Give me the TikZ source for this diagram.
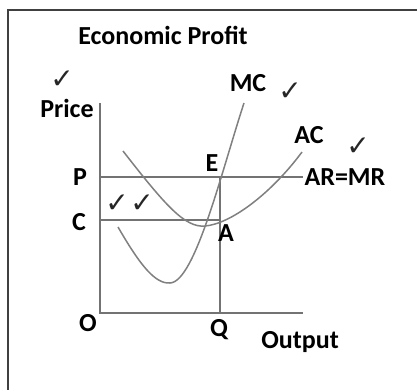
\documentclass[tikz,border=0pt]{standalone}
\usepackage{fontspec}
\setmainfont{Carlito}
\newfontfamily\symfont{DejaVu Sans}
\begin{document}
\begin{tikzpicture}[x=1pt,y=-1pt,
  lbl/.style={font=\bfseries\fontsize{26}{30}\selectfont, text=black, inner sep=0pt},
  tick/.style={font=\symfont\fontsize{28}{30}\selectfont, text=black!85, inner sep=0pt},
  curve/.style={draw=black!50, line width=1.5pt},
  axis/.style={draw=black!55, line width=1.6pt}]
\useasboundingbox (0,0) rectangle (417,389);
\fill[white] (0,0) rectangle (417,389);
\draw[black!75, line width=1.3pt] (8,420) -- (8,10) -- (430,10);
% coordinates
\coordinate (O) at (100,313);
\coordinate (Ytop) at (100,103);
\coordinate (Xend) at (303,313);
\coordinate (Pstart) at (100,177);
\coordinate (Pend) at (303,177);
\coordinate (Cstart) at (100,220);
\coordinate (Aend) at (220,220);
\coordinate (E) at (220,177);
\coordinate (Qf) at (220,313);
% axes and lines
\draw[axis] (Ytop) -- (O) -- (Xend);
\draw[axis] (Pstart) -- (Pend);
\draw[axis] (Cstart) -- (Aend);
\draw[axis] (E) -- (Qf);
% AC curve
\draw[curve] (123,151) .. controls (165,205) and (185,228) .. (205,226)
  .. controls (230,224) and (270,195) .. (302,152);
% MC curve
\draw[curve] (118,227) .. controls (140,265) and (155,284) .. (170,283)
  .. controls (195,282) and (222,170) .. (244,103);
% labels
\node[lbl] (title) at (163,35) {Economic Profit};
\node[lbl] (price) at (67,108) {Price};
\node[lbl] (mc) at (248,83) {MC};
\node[lbl] (ac) at (309,135) {AC};
\node[lbl] (armr) at (345,177) {AR=MR};
\node[lbl] (p) at (80,177) {P};
\node[lbl] (c) at (79,222) {C};
\node[lbl] (e) at (212,163) {E};
\node[lbl] (a) at (226,233) {A};
\node[lbl] (o) at (88,323) {O};
\node[lbl] (q) at (219,330) {Q};
\node[lbl] (out) at (300,342) {Output};
% ticks
\node[tick] (t1) at (62,80) {✓};
\node[tick] (t2) at (290,92) {✓};
\node[tick] (t3) at (358,147) {✓};
\node[tick] (t4) at (117,204) {✓};
\node[tick] (t5) at (142,204) {✓};
\end{tikzpicture}
\end{document}
